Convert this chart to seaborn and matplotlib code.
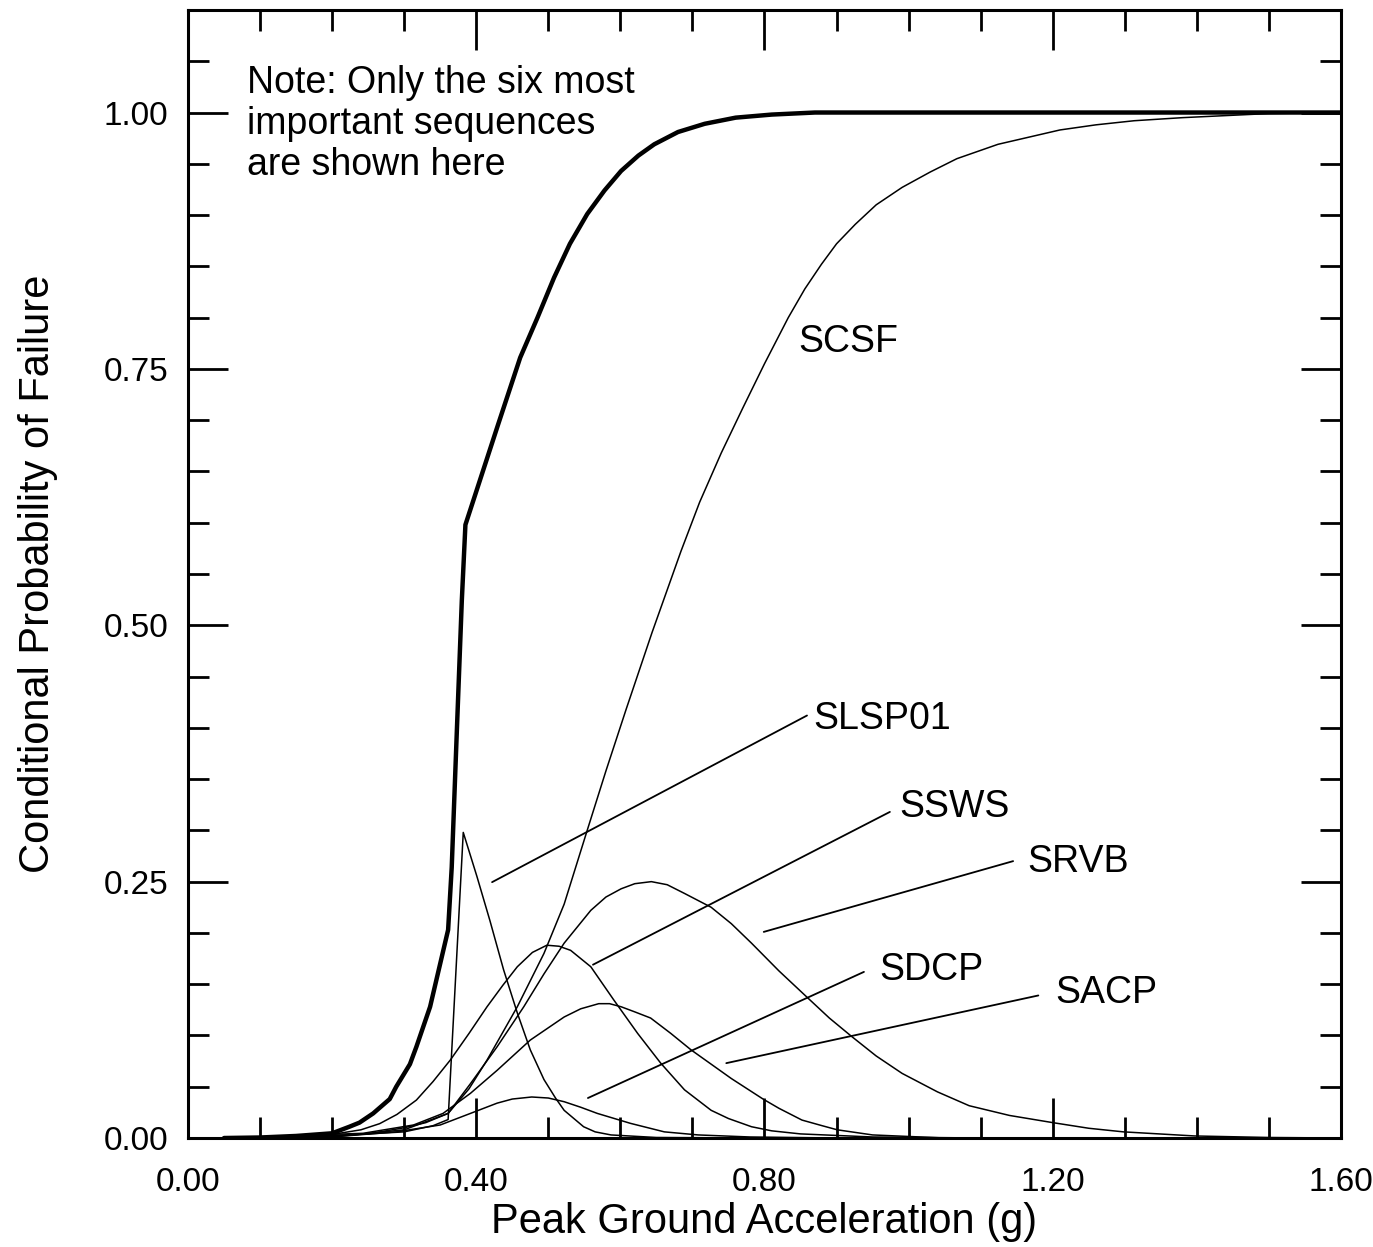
import matplotlib
matplotlib.use("Agg")
import matplotlib.pyplot as plt
import seaborn as sns
from matplotlib.ticker import MultipleLocator, FormatStrFormatter

# Curve values
x_total = [0.05, 0.10, 0.15, 0.20, 0.224, 0.238, 0.257, 0.28, 0.289, 0.308, 0.317, 0.336,
           0.350, 0.361, 0.366, 0.373, 0.380, 0.385, 0.43, 0.461, 0.485, 0.508, 0.53, 0.554,
           0.578, 0.601, 0.625, 0.647, 0.68, 0.717, 0.76, 0.81, 0.87, 1.0, 1.2, 1.4, 1.6]
y_total = [0.0, 0.0005, 0.002, 0.0046, 0.011, 0.015, 0.024, 0.038, 0.05, 0.072, 0.089, 0.128,
           0.17, 0.203, 0.264, 0.395, 0.524, 0.598, 0.695, 0.761, 0.80, 0.839, 0.872, 0.901,
           0.924, 0.943, 0.958, 0.969, 0.981, 0.989, 0.995, 0.998, 1.0, 1.0, 1.0, 1.0, 1.0]

x_scsf = [0.05, 0.15, 0.25, 0.30, 0.33, 0.361, 0.39, 0.415, 0.457, 0.494, 0.522, 0.554, 0.58,
          0.608, 0.644, 0.684, 0.71, 0.74, 0.77, 0.80, 0.833, 0.856, 0.879, 0.90, 0.926, 0.955,
          0.991, 1.03, 1.067, 1.124, 1.21, 1.26, 1.313, 1.38, 1.44, 1.5, 1.6]
y_scsf = [0.0, 0.001, 0.004, 0.010, 0.015, 0.024, 0.048, 0.076, 0.128, 0.18, 0.228, 0.30, 0.358,
          0.418, 0.493, 0.572, 0.620, 0.668, 0.712, 0.755, 0.80, 0.828, 0.852, 0.872, 0.891, 0.91,
          0.927, 0.942, 0.955, 0.969, 0.983, 0.988, 0.992, 0.995, 0.997, 0.999, 1.0]

x_slsp01 = [0.05, 0.20, 0.30, 0.34, 0.361, 0.382, 0.401, 0.419, 0.438, 0.457, 0.475, 0.494,
            0.51, 0.522, 0.549, 0.565, 0.587, 0.65, 0.80]
y_slsp01 = [0.0, 0.002, 0.006, 0.012, 0.018, 0.298, 0.255, 0.212, 0.164, 0.122, 0.086, 0.057,
            0.039, 0.027, 0.011, 0.006, 0.003, 0.0005, 0.0]

x_ssws = [0.05, 0.15, 0.21, 0.24, 0.266, 0.29, 0.317, 0.34, 0.364, 0.39, 0.415, 0.437, 0.457,
          0.478, 0.498, 0.515, 0.531, 0.559, 0.591, 0.624, 0.656, 0.689, 0.726, 0.75, 0.782,
          0.81, 0.85, 0.95, 1.1]
y_ssws = [0.0, 0.001, 0.0046, 0.008, 0.014, 0.023, 0.037, 0.055, 0.076, 0.102, 0.128, 0.149,
          0.167, 0.181, 0.188, 0.187, 0.183, 0.167, 0.1345, 0.102, 0.073, 0.047, 0.027, 0.019,
          0.011, 0.007, 0.004, 0.001, 0.0]

x_srvb = [0.05, 0.20, 0.30, 0.361, 0.392, 0.429, 0.466, 0.494, 0.522, 0.559, 0.58, 0.601,
          0.62, 0.643, 0.665, 0.689, 0.726, 0.754, 0.782, 0.82, 0.861, 0.89, 0.921, 0.955,
          0.991, 1.04, 1.084, 1.14, 1.20, 1.25, 1.298, 1.397, 1.5, 1.6]
y_srvb = [0.0, 0.001, 0.008, 0.024, 0.053, 0.089, 0.128, 0.16, 0.19, 0.222, 0.235, 0.243,
          0.248, 0.25, 0.247, 0.2385, 0.225, 0.209, 0.19, 0.163, 0.136, 0.117, 0.099, 0.08,
          0.063, 0.045, 0.0315, 0.022, 0.015, 0.0095, 0.006, 0.002, 0.0005, 0.0]

x_sacp = [0.05, 0.243, 0.313, 0.354, 0.392, 0.429, 0.475, 0.522, 0.545, 0.57, 0.585, 0.601,
          0.62, 0.642, 0.67, 0.698, 0.754, 0.798, 0.82, 0.852, 0.88, 0.901, 0.95, 1.05]
y_sacp = [0.0, 0.0046, 0.0127, 0.024, 0.0436, 0.066, 0.0955, 0.118, 0.126, 0.131, 0.131, 0.128,
          0.123, 0.117, 0.102, 0.086, 0.058, 0.038, 0.029, 0.0175, 0.012, 0.008, 0.003, 0.0]

x_sdcp = [0.05, 0.20, 0.289, 0.35, 0.392, 0.429, 0.45, 0.477, 0.50, 0.522, 0.545, 0.568, 0.614,
          0.661, 0.708, 0.78, 0.9]
y_sdcp = [0.0, 0.001, 0.006, 0.0127, 0.024, 0.034, 0.038, 0.040, 0.039, 0.0354, 0.030, 0.024,
          0.0143, 0.006, 0.003, 0.001, 0.0]

# Leader-line labels
leader_names = ["SLSP01", "SSWS", "SRVB", "SDCP", "SACP"]
leader_tip_x = [0.422, 0.562, 0.799, 0.555, 0.747]
leader_tip_y = [0.2495, 0.169, 0.201, 0.039, 0.073]
leader_end_x = [0.859, 0.974, 1.145, 0.938, 1.18]
leader_end_y = [0.412, 0.318, 0.270, 0.162, 0.139]
label_x = [0.868, 0.987, 1.165, 0.959, 1.203]
label_y = [0.409, 0.3226, 0.269, 0.164, 0.141]

sns.set_theme(style="ticks")
plt.rcParams['font.family'] = ['Liberation Sans', 'DejaVu Sans']
plt.rcParams['text.color'] = 'black'
plt.rcParams['axes.labelcolor'] = 'black'
plt.rcParams['xtick.color'] = 'black'
plt.rcParams['ytick.color'] = 'black'

fig = plt.figure(figsize=(13.73, 12.47), dpi=100)
ax = fig.add_axes([0.1369, 0.0874, 0.8398, 0.9046])

thin_curves = [(x_scsf, y_scsf), (x_slsp01, y_slsp01), (x_ssws, y_ssws),
               (x_srvb, y_srvb), (x_sacp, y_sacp), (x_sdcp, y_sdcp)]
for xs, ys in thin_curves:
    sns.lineplot(x=xs, y=ys, ax=ax, color="black", linewidth=1.1, estimator=None)
sns.lineplot(x=x_total, y=y_total, ax=ax, color="black", linewidth=3.2, estimator=None)

for i, name in enumerate(leader_names):
    ax.plot([leader_tip_x[i], leader_end_x[i]], [leader_tip_y[i], leader_end_y[i]],
            color="black", linewidth=1.3)
    ax.text(label_x[i], label_y[i], name, fontsize=27, ha="left", va="center")

ax.text(0.847, 0.776, "SCSF", fontsize=27, ha="left", va="center")
ax.text(0.082, 1.046, "Note: Only the six most\nimportant sequences\nare shown here",
        fontsize=27, ha="left", va="top", linespacing=1.18)

ax.set_xlim(0, 1.6)
ax.set_ylim(0, 1.1)
ax.xaxis.set_major_locator(MultipleLocator(0.4))
ax.xaxis.set_minor_locator(MultipleLocator(0.1))
ax.yaxis.set_major_locator(MultipleLocator(0.25))
ax.yaxis.set_minor_locator(MultipleLocator(0.05))
ax.xaxis.set_major_formatter(FormatStrFormatter("%.2f"))
ax.yaxis.set_major_formatter(FormatStrFormatter("%.2f"))
ax.tick_params(which="both", direction="in", top=True, right=True, width=2.0, color="black")
ax.tick_params(which="major", length=29, labelsize=24, pad=14)
ax.tick_params(axis="x", which="major", pad=21)
ax.tick_params(which="minor", length=15)
for side in ax.spines.values():
    side.set_linewidth(2.2)
    side.set_color("black")

ax.set_xlabel("Peak Ground Acceleration (g)", fontsize=30, labelpad=3)
ax.set_ylabel("Conditional Probability of Failure", fontsize=30, labelpad=33)

fig.savefig("out.png", dpi=100, facecolor="white")
